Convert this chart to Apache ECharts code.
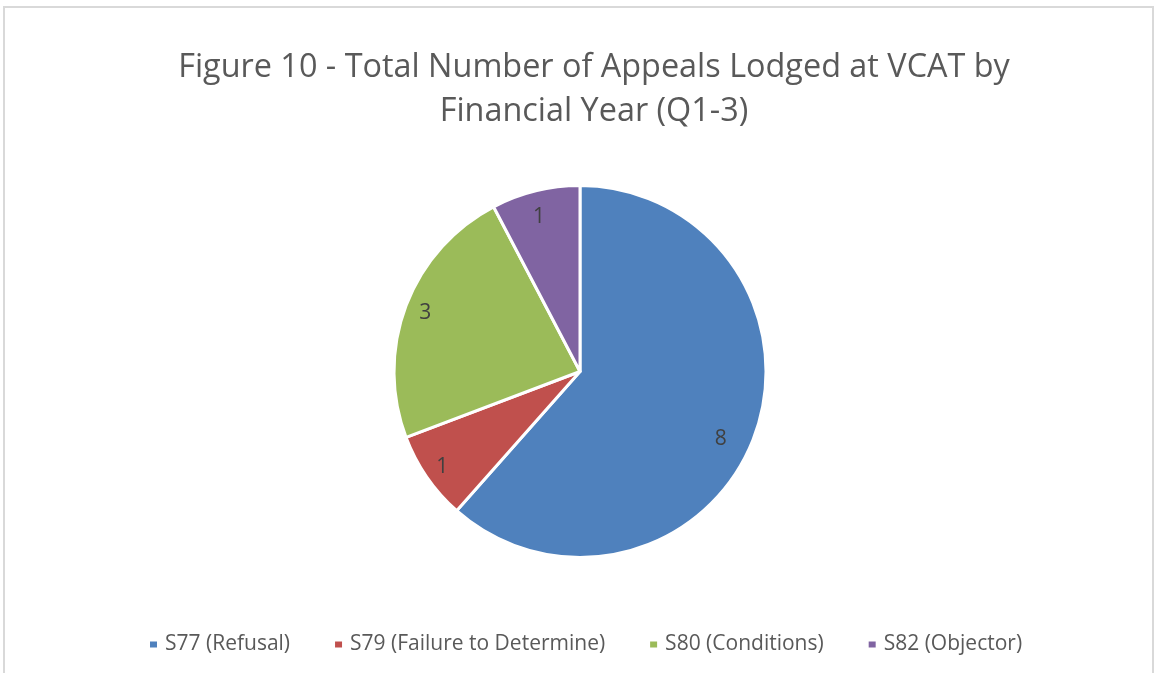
<!DOCTYPE html>
<html>
<head>
<meta charset="utf-8">
<script src="https://cdn.jsdelivr.net/npm/echarts@6/dist/echarts.min.js"></script>
<style>
  html, body { margin: 0; padding: 0; background: #fff; overflow: hidden; }
  #chart { position: absolute; left: 0; top: 0; width: 1157px; height: 673px; }
  #frame { position: absolute; left: 3px; top: 6px; width: 1147px; height: 700px;
           border: 2px solid #d9d9d9; pointer-events: none; }
</style>
</head>
<body>
<div id="chart"></div>
<div id="frame"></div>
<script>
const titleText = 'Figure 10 - Total Number of Appeals Lodged at VCAT by\nFinancial Year (Q1-3)';
const categories = ['S77 (Refusal)', 'S79 (Failure to Determine)', 'S80 (Conditions)', 'S82 (Objector)'];
const appeals = [8, 1, 3, 1];
const sliceColors = ['#4f81bd', '#c0504d', '#9bbb59', '#8064a2'];

// label spot: share of the radius and a small angle nudge (deg), Excel best-fit look
const labelReach = [0.84, 0.9, 0.89, 0.86];
const labelNudge = [5, 0, 0, -1];

const chart = echarts.init(document.getElementById('chart'));

const cx = 580, cy = 371.5, R = 186;
const total = appeals.reduce((a, b) => a + b, 0);
// mid angle of each slice, clockwise from 12 o'clock
let acc = 0;
const midAngles = appeals.map((v, i) => {
    const mid = (acc + v / 2) / total * Math.PI * 2 + labelNudge[i] * Math.PI / 180;
    acc += v;
    return mid;
});

chart.setOption({
    textStyle: { fontFamily: 'Open Sans' },
    title: {
        text: titleText,
        left: 589,
        textAlign: 'center',
        top: 41,
        textStyle: {
            fontFamily: 'Open Sans',
            fontSize: 32.4,
            fontWeight: 'normal',
            color: '#595959',
            lineHeight: 44
        }
    },
    legend: {
        bottom: 13,
        left: 143,
        icon: 'rect',
        itemWidth: 9,
        itemHeight: 8,
        itemGap: 43,
        data: categories,
        textStyle: { fontFamily: 'Open Sans', fontSize: 21, color: '#595959', padding: [0, 0, 0, 2] }
    },
    series: [{
        type: 'pie',
        center: [cx, cy],
        radius: R,
        startAngle: 90,
        clockwise: true,
        avoidLabelOverlap: false,
        animation: false,
        itemStyle: { borderColor: '#fff', borderWidth: 3 },
        label: {
            show: true,
            position: 'inside',
            formatter: '{c}',
            fontFamily: 'Open Sans',
            fontSize: 21,
            color: '#404040'
        },
        labelLine: { show: false },
        labelLayout: function (p) {
            const i = p.dataIndex;
            const a = midAngles[i];
            const r = labelReach[i] * R;
            return {
                x: cx + Math.sin(a) * r,
                y: cy - Math.cos(a) * r,
                align: 'center',
                verticalAlign: 'middle'
            };
        },
        emphasis: { disabled: true },
        data: categories.map((name, i) => ({
            name: name,
            value: appeals[i],
            itemStyle: { color: sliceColors[i] }
        }))
    }]
});
</script>
</body>
</html>
